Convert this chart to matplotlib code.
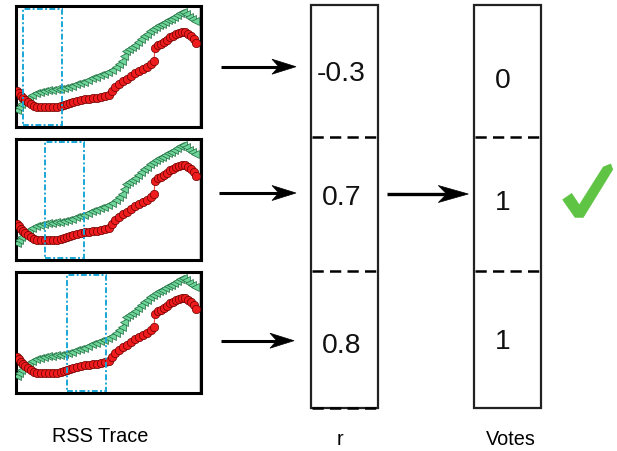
import matplotlib
matplotlib.use("Agg")
import matplotlib.pyplot as plt
from matplotlib.patches import Rectangle, Polygon

plt.rcParams['font.family'] = ['Liberation Sans', 'DejaVu Sans']

# RSS trace samples (sample position, signal level) for the two links
red_x = [17, 19, 21, 23, 25, 28, 31, 34, 37, 41, 45, 49, 53, 57, 61, 64, 67, 70,
         73, 77, 81, 85, 89, 93, 97, 101, 105, 109, 112, 115, 119, 123, 127, 131,
         135, 139, 143, 147, 151, 154, 155, 158, 161, 164, 167, 170, 173, 176, 179,
         182, 185, 188, 191, 194, 196]
red_y = [37, 35, 32, 30, 28, 26, 24, 22, 21, 21, 21, 21, 21, 21, 22, 23, 24, 25,
         26, 27, 28, 29, 29, 30, 30, 31, 32, 33, 37, 41, 44, 47, 49, 52,
         55, 57, 59, 61, 64, 67, 80, 83, 84, 86, 88, 91, 92, 94, 95,
         96, 96, 94, 92, 89, 85]
green_x = [17, 19, 21, 23, 26, 29, 32, 36, 40, 44, 48, 52, 56, 60, 64, 68, 72, 76,
           80, 84, 88, 92, 96, 100, 104, 108, 112, 116, 119, 122, 124, 126, 129,
           132, 135, 138, 141, 144, 147, 150, 153, 156, 159, 162, 165, 168, 171,
           174, 177, 180, 183, 186, 189, 192, 195]
green_y = [18, 21, 24, 27, 29, 31, 33, 35, 36, 37, 38, 38, 39, 39, 40, 41, 42, 44,
           45, 46, 48, 50, 51, 53, 54, 56, 58, 61, 64, 67, 72, 77, 79,
           81, 83, 86, 89, 92, 94, 97, 99, 101, 103, 104, 106, 108, 109,
           111, 113, 115, 116, 114, 111, 109, 107]

# sliding window start for each step
window_start = [23, 45, 67]
window_len = 38.5

# correlation of each window and the resulting votes
r_values = [-0.3, 0.7, 0.8]
votes = [0, 1, 1]

W, H = 617, 452
fig = plt.figure(figsize=(W / 100, H / 100), dpi=100)

# overlay in pixel coordinates for the diagram parts
ov = fig.add_axes([0, 0, 1, 1])
ov.set_xlim(0, W)
ov.set_ylim(H, 0)
ov.axis('off')


def fig_rect(x0, y0, x1, y1):
    return [x0 / W, 1 - y1 / H, (x1 - x0) / W, (y1 - y0) / H]


panel_tops = [6.5, 139.5, 272.5]
for top, ws in zip(panel_tops, window_start):
    ax = fig.add_axes(fig_rect(15.5, top, 200.5, top + 121))
    ax.set_xlim(15.5, 200.5)
    ax.set_ylim(1.5, 122.5)
    ax.set_xticks([])
    ax.set_yticks([])
    for s in ax.spines.values():
        s.set_linewidth(2.2)
        s.set_color('black')
    ax.axvline(199.3, color='#c8c8c8', lw=0.8, zorder=1)
    ax.plot(green_x, green_y, color='#3aa860', lw=0.7, marker='<', ms=6.3,
            mfc='#6fd59a', mec='#1e6a3c', mew=0.5, zorder=3)
    ax.plot(red_x, red_y, color='#f04848', lw=0.8, marker='o', ms=6.0,
            mfc='#ee1c1c', mec='#6a0000', mew=0.5, zorder=4)
    ax.add_patch(Rectangle((ws, 3), window_len, 116, fill=False,
                           edgecolor='#1aa6d6', lw=1.4,
                           linestyle=(0, (3.0, 1.2, 1.0, 1.2)), zorder=5))


def arrow(x0, x1, y, hl, hw, lw=2.2):
    notch = x1 - hl * 0.72
    ov.plot([x0, notch + 1], [y, y], color='black', lw=lw,
            solid_capstyle='butt')
    ov.add_patch(Polygon([(x1, y), (x1 - hl, y - hw / 2), (notch, y),
                          (x1 - hl, y + hw / 2)], closed=True,
                         facecolor='black', edgecolor='black', lw=0.5))


# arrows from the trace panels into the r column
for ya, x0, x1 in [(67.7, 220.7, 296), (194, 218.7, 296), (341.7, 220.7, 294)]:
    arrow(x0, x1, ya, 24, 15)

# r column and vote column
box_col = '#222222'
for bx0, bx1 in [(311, 378), (474, 541)]:
    ov.add_patch(Rectangle((bx0, 6), bx1 - bx0, 403, fill=False,
                           edgecolor=box_col, lw=1.6))
    for yd in (138, 272):
        ov.plot([bx0 + 1, bx1 - 1], [yd, yd], color='black', lw=1.8,
                linestyle=(0, (4.5, 2.5)))
ov.plot([312, 377], [409, 409], color='black', lw=1.8, linestyle=(0, (4.5, 2.5)))

r_base = [81, 205, 352.7]
v_base = [88.3, 210, 349.3]
for rv, yb in zip(r_values, r_base):
    ov.text(341.5, yb, f"{rv:.1f}", ha='center', va='baseline', fontsize=20.3,
            color='#111111')
for vv, yb in zip(votes, v_base):
    ov.text(503, yb, f"{vv}", ha='center', va='baseline', fontsize=20.3,
            color='#111111')

# r -> votes arrow on the winning cell
arrow(386.7, 468.3, 195, 30, 17, lw=2.4)

# check mark
ov.add_patch(Polygon([(562.7, 200.7), (571.7, 194.5), (579.3, 206.0),
                      (603.3, 168.0), (610.7, 165.0), (612.7, 170.5),
                      (583.3, 218.3), (575.0, 218.3)], closed=True,
                     facecolor='#5fc444', edgecolor='#5fc444', lw=0.5))

ov.text(100, 441.7, "RSS Trace", ha='center', va='baseline', fontsize=14.3)
ov.text(340, 445, "r", ha='center', va='baseline', fontsize=14.3)
ov.text(510.5, 445, "Votes", ha='center', va='baseline', fontsize=14.3)

fig.savefig("out.png", dpi=100)
